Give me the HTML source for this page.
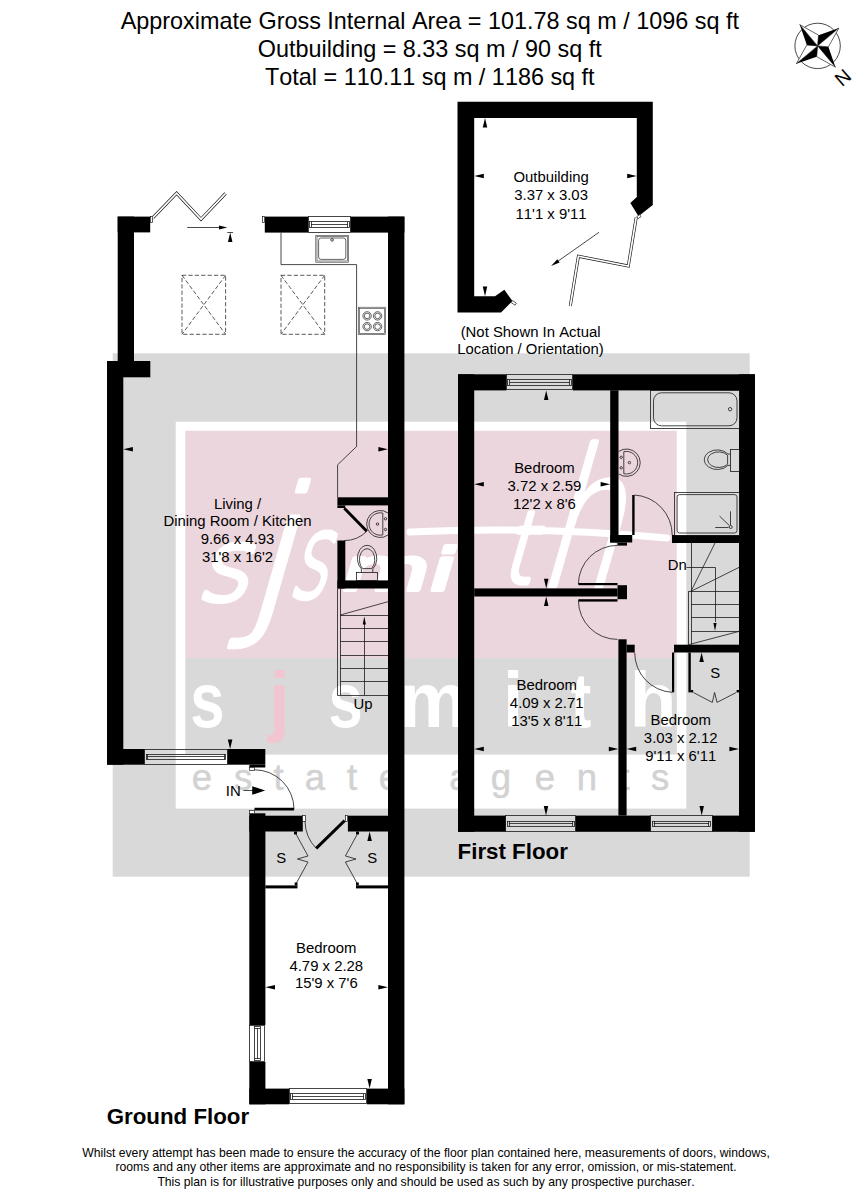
<!DOCTYPE html>
<html lang="en"><head><meta charset="utf-8"><title>Floor plan</title>
<style>
html,body{margin:0;padding:0;background:#fff}
svg{display:block}
text{font-family:"Liberation Sans",sans-serif;fill:#000;font-kerning:none}
.w{fill:#000}
.a{fill:#000}
.cw{fill:#fff;stroke:#000;stroke-width:.6;stroke-linejoin:round}
.l{fill:none;stroke:#1a1a1a;stroke-width:.8}
.l2{fill:none;stroke:#222;stroke-width:.55}
.lf{fill:none;stroke:#1a1a1a;stroke-width:.8}
.j{fill:#fff;stroke:#1a1a1a;stroke-width:.7}
.dash{fill:none;stroke:#111;stroke-width:.7;stroke-dasharray:4.2 2.2}
.dl{fill:none;stroke:#000;stroke-width:2.9}
.d2{fill:none;stroke:#111;stroke-width:3;stroke-linejoin:miter;stroke-linecap:butt}
.d2i{fill:none;stroke:#fff;stroke-width:1.7;stroke-linejoin:miter;stroke-linecap:butt}
.t{font-size:14.9px;text-anchor:middle}
.tl{font-size:14.9px;text-anchor:middle}
.h{font-size:22.3px;font-weight:700}
.big{font-size:23.4px;text-anchor:middle}
.sm{font-size:12.2px;text-anchor:middle}
</style></head><body>
<svg width="861" height="1200" viewBox="0 0 861 1200">
<rect width="861" height="1200" fill="#fff"/>
<rect class="" x="112.70" y="353.30" width="637.00" height="523.40" fill="#d9d9d9"/>
<rect class="" x="175.70" y="421.70" width="510.60" height="386.90" fill="#fff"/>
<rect class="" x="185.30" y="430.80" width="491.50" height="227.30" fill="#ecd6dd"/>
<rect class="" x="185.30" y="658.10" width="491.50" height="96.50" fill="#d9d9d9"/>
<text transform="translate(196 600) skewX(-16) scale(1 1)" style="font:200 100px 'DejaVu Sans',sans-serif;fill:#fff;stroke:#fff;stroke-width:5;stroke-linejoin:round" >s</text>
<text transform="translate(243 611) skewX(-16) scale(1 1)" style="font:200 172px 'DejaVu Sans',sans-serif;fill:#fff;stroke:#fff;stroke-width:5;stroke-linejoin:round" >j</text>
<text transform="translate(288 597) skewX(-16) scale(0.62 1)" style="font:200 116px 'DejaVu Sans',sans-serif;fill:#fff;stroke:#fff;stroke-width:5;stroke-linejoin:round" >s</text>
<text transform="translate(338 590) skewX(-16) scale(1 1)" style="font:400 58px 'DejaVu Sans',sans-serif;fill:#fff;stroke:#fff;stroke-width:4;stroke-linejoin:round" textLength="112" lengthAdjust="spacingAndGlyphs">mi</text>
<text transform="translate(500 583) skewX(-16) scale(0.8 1)" style="font:200 100px 'DejaVu Sans',sans-serif;fill:#fff;stroke:#fff;stroke-width:5;stroke-linejoin:round" >t</text>
<text transform="translate(536 586) skewX(-16) scale(0.66 1)" style="font:200 190px 'DejaVu Sans',sans-serif;fill:#fff;stroke:#fff;stroke-width:5;stroke-linejoin:round" >h</text>
<path d="M410 532 Q540 526 667 538" style="fill:none;stroke:#fff;stroke-width:7;stroke-linecap:round"/>
<text x="0" y="0" text-anchor="middle" transform="translate(207.5 726.6) scale(0.8 1)" style="font:700 77px 'Liberation Sans',sans-serif;fill:#fff">s</text>
<text x="0" y="0" text-anchor="middle" transform="translate(279.5 726.6) scale(1 1)" style="font:700 77px 'Liberation Sans',sans-serif;fill:#f1c6d0">j</text>
<text x="0" y="0" text-anchor="middle" transform="translate(345.6 726.6) scale(0.8 1)" style="font:700 77px 'Liberation Sans',sans-serif;fill:#fff">s</text>
<text x="0" y="0" text-anchor="middle" transform="translate(433.5 726.6) scale(1 1)" style="font:700 77px 'Liberation Sans',sans-serif;fill:#fff">m</text>
<text x="0" y="0" text-anchor="middle" transform="translate(513.2 726.6) scale(0.95 1)" style="font:700 77px 'Liberation Sans',sans-serif;fill:#fff">i</text>
<text x="0" y="0" text-anchor="middle" transform="translate(581 726.6) scale(0.8 1)" style="font:700 77px 'Liberation Sans',sans-serif;fill:#fff">t</text>
<text x="0" y="0" text-anchor="middle" transform="translate(653 726.6) scale(1 1)" style="font:700 77px 'Liberation Sans',sans-serif;fill:#fff">h</text>
<text x="202" y="789.8" text-anchor="middle" style="font:400 36.5px 'Liberation Sans',sans-serif;fill:#d2d2d2;stroke:#d2d2d2;stroke-width:.5">e</text>
<text x="243" y="789.8" text-anchor="middle" style="font:400 36.5px 'Liberation Sans',sans-serif;fill:#d2d2d2;stroke:#d2d2d2;stroke-width:.5">s</text>
<text x="278.5" y="789.8" text-anchor="middle" style="font:400 36.5px 'Liberation Sans',sans-serif;fill:#d2d2d2;stroke:#d2d2d2;stroke-width:.5">t</text>
<text x="314.8" y="789.8" text-anchor="middle" style="font:400 36.5px 'Liberation Sans',sans-serif;fill:#d2d2d2;stroke:#d2d2d2;stroke-width:.5">a</text>
<text x="352" y="789.8" text-anchor="middle" style="font:400 36.5px 'Liberation Sans',sans-serif;fill:#d2d2d2;stroke:#d2d2d2;stroke-width:.5">t</text>
<text x="389" y="789.8" text-anchor="middle" style="font:400 36.5px 'Liberation Sans',sans-serif;fill:#d2d2d2;stroke:#d2d2d2;stroke-width:.5">e</text>
<text x="459.5" y="789.8" text-anchor="middle" style="font:400 36.5px 'Liberation Sans',sans-serif;fill:#d2d2d2;stroke:#d2d2d2;stroke-width:.5">a</text>
<text x="501" y="789.8" text-anchor="middle" style="font:400 36.5px 'Liberation Sans',sans-serif;fill:#d2d2d2;stroke:#d2d2d2;stroke-width:.5">g</text>
<text x="545" y="789.8" text-anchor="middle" style="font:400 36.5px 'Liberation Sans',sans-serif;fill:#d2d2d2;stroke:#d2d2d2;stroke-width:.5">e</text>
<text x="587" y="789.8" text-anchor="middle" style="font:400 36.5px 'Liberation Sans',sans-serif;fill:#d2d2d2;stroke:#d2d2d2;stroke-width:.5">n</text>
<text x="624.5" y="789.8" text-anchor="middle" style="font:400 36.5px 'Liberation Sans',sans-serif;fill:#d2d2d2;stroke:#d2d2d2;stroke-width:.5">t</text>
<text x="660" y="789.8" text-anchor="middle" style="font:400 36.5px 'Liberation Sans',sans-serif;fill:#d2d2d2;stroke:#d2d2d2;stroke-width:.5">s</text>
<rect class="w" x="117.70" y="216.60" width="16.30" height="144.40" />
<rect class="w" x="117.70" y="216.60" width="32.50" height="15.80" />
<rect class="w" x="107.00" y="361.00" width="43.30" height="16.30" />
<rect class="w" x="107.00" y="361.00" width="16.30" height="403.70" />
<rect class="w" x="107.00" y="749.00" width="37.50" height="15.70" />
<rect class="w" x="227.50" y="749.00" width="37.80" height="15.70" />
<rect class="w" x="249.40" y="764.70" width="15.90" height="2.80" />
<rect class="w" x="264.80" y="216.60" width="43.20" height="16.00" />
<rect class="w" x="350.60" y="216.60" width="53.80" height="16.00" />
<rect class="w" x="388.00" y="216.60" width="16.40" height="887.70" />
<rect class="w" x="249.30" y="813.30" width="16.10" height="211.70" />
<rect class="w" x="249.30" y="1061.80" width="16.10" height="42.50" />
<rect class="w" x="249.30" y="815.70" width="53.50" height="15.80" />
<rect class="w" x="347.90" y="815.70" width="40.10" height="15.80" />
<rect class="w" x="249.30" y="1088.60" width="39.80" height="15.70" />
<rect class="w" x="366.90" y="1088.60" width="37.50" height="15.70" />
<rect class="w" x="337.40" y="497.30" width="50.60" height="8.10" />
<rect class="w" x="337.40" y="505.40" width="7.80" height="2.60" />
<rect class="w" x="337.40" y="540.50" width="7.90" height="48.00" />
<rect class="w" x="337.40" y="580.40" width="50.60" height="8.10" />
<rect class="w" x="265.40" y="885.40" width="32.10" height="3.00" />
<rect class="w" x="356.00" y="885.40" width="32.00" height="3.00" />
<rect class="w" x="294.00" y="831.50" width="3.00" height="2.90" />
<rect class="w" x="356.00" y="831.50" width="3.00" height="2.90" />
<rect class="w" x="294.70" y="882.50" width="2.80" height="2.90" />
<rect class="w" x="356.00" y="882.50" width="2.80" height="2.90" />
<rect class="l" x="308.50" y="216.50" width="42.00" height="16.00" />
<rect class="l" x="309.50" y="221.50" width="40.00" height="6.00" />
<polyline class="l" points="311.00,224.50 347.60,224.50" />
<polyline class="l" points="311.50,221.90 311.50,227.30" />
<polyline class="l" points="347.50,221.90 347.50,227.30" />
<rect class="l" x="144.50" y="749.50" width="83.00" height="15.00" />
<rect class="l" x="146.50" y="754.50" width="79.00" height="5.00" />
<polyline class="l" points="147.50,756.50 224.50,756.50" />
<polyline class="l" points="147.50,754.15 147.50,759.55" />
<polyline class="l" points="224.50,754.15 224.50,759.55" />
<rect class="l" x="289.50" y="1088.50" width="77.00" height="15.00" />
<rect class="l" x="290.50" y="1093.50" width="75.00" height="6.00" />
<polyline class="l" points="292.10,1096.50 363.90,1096.50" />
<polyline class="l" points="292.50,1093.75 292.50,1099.15" />
<polyline class="l" points="363.50,1093.75 363.50,1099.15" />
<rect class="l" x="249.50" y="1025.50" width="15.00" height="36.00" />
<rect class="l" x="254.50" y="1026.50" width="6.00" height="34.00" />
<polyline class="l" points="257.50,1028.00 257.50,1058.80" />
<polyline class="l" points="254.65,1028.50 260.05,1028.50" />
<polyline class="l" points="254.65,1058.50 260.05,1058.50" />
<rect class="j" x="150.50" y="216.50" width="2.00" height="6.00" />
<rect class="j" x="262.50" y="216.50" width="2.00" height="6.00" />
<rect class="j" x="249.50" y="767.50" width="5.00" height="3.00" />
<rect class="j" x="249.50" y="810.50" width="5.00" height="3.00" />
<rect class="j" x="302.50" y="815.50" width="3.00" height="6.00" />
<rect class="j" x="345.50" y="815.50" width="2.00" height="6.00" />
<polyline class="d2" points="153.00,217.60 176.60,193.20 201.00,219.20 225.60,193.40" />
<polyline class="d2i" points="153.00,217.60 176.60,193.20 201.00,219.20 225.60,193.40" />
<polyline class="l" points="187.20,227.50 220.00,227.50" />
<polygon class="a" points="227.30,227.50 219.00,225.60 219.00,229.40"/>
<polyline class="l" points="227.30,232.50 233.00,232.50" />
<polygon class="a" points="230.20,232.40 227.95,242.00 232.45,242.00"/>
<rect class="dash" x="182" y="275.3" width="43.599999999999994" height="59"/>
<polyline class="dash" points="182.00,275.30 225.60,334.30" />
<polyline class="dash" points="225.60,275.30 182.00,334.30" />
<rect class="dash" x="281" y="275.3" width="43.69999999999999" height="59"/>
<polyline class="dash" points="281.00,275.30 324.70,334.30" />
<polyline class="dash" points="324.70,275.30 281.00,334.30" />
<polyline class="l" points="281.00,232.60 281.00,264.60 356.60,264.60 356.60,446.50 337.60,464.80 337.60,497.30" />
<rect class="l2" x="315.8" y="235.3" width="32.7" height="26.9"/><rect class="l2" x="317" y="236.5" width="30.3" height="24.5"/>
<rect class="l2" x="318.6" y="238" width="27.2" height="21.4" rx="2.5" style="stroke-width:.7"/>
<circle class="l" cx="332.1" cy="239.9" r="1.3"/>
<rect class="l2" x="358.5" y="307.2" width="27.2" height="27.3"/><rect class="l2" x="359.7" y="308.4" width="24.8" height="24.9"/>
<circle class="l2" cx="367.1" cy="315.9" r="4.2" style="stroke-width:.7"/><circle class="l2" cx="367.1" cy="315.9" r="2.8" style="stroke-width:.7"/>
<circle class="l2" cx="367.1" cy="326.6" r="4.2" style="stroke-width:.7"/><circle class="l2" cx="367.1" cy="326.6" r="2.8" style="stroke-width:.7"/>
<circle class="l2" cx="377.6" cy="315.9" r="4.2" style="stroke-width:.7"/><circle class="l2" cx="377.6" cy="315.9" r="2.8" style="stroke-width:.7"/>
<circle class="l2" cx="377.6" cy="326.6" r="4.2" style="stroke-width:.7"/><circle class="l2" cx="377.6" cy="326.6" r="2.8" style="stroke-width:.7"/>
<polyline class="dl" points="344.30,508.20 366.80,531.30" />
<path class="l" d="M366.8 531.3 A32 32 0 0 1 344.3 540.6" />
<path class="l" d="M388 513 A13.5 13.5 0 1 0 388 535" />
<path class="l" d="M382.8 513.1 A11.2 11.2 0 1 0 382.8 534.9 Z" stroke-linejoin="round"/>
<circle class="l" cx="385.5" cy="518.8" r="1.2"/>
<circle class="l" cx="385.5" cy="529.5" r="1.2"/>
<circle class="l" cx="377.5" cy="524.1" r="1.2"/>
<path class="l" d="M361.4 572.4 L361.4 568.9 A9.7 13 0 1 1 372.8 568.9 L372.8 572.4" />
<path class="l" d="M362.6 568.6 A7.7 11 0 1 1 371.6 568.6 Z" />
<rect class="lf" x="356.50" y="572.50" width="21.00" height="8.00" />
<polyline class="l" points="337.50,588.50 337.50,695.50 388.00,695.50" />
<polyline class="l" points="340.50,588.50 340.50,695.00" />
<polyline class="l" points="340.30,615.50 388.00,615.50" />
<polyline class="l" points="340.30,628.50 388.00,628.50" />
<polyline class="l" points="340.30,641.50 388.00,641.50" />
<polyline class="l" points="340.30,655.50 388.00,655.50" />
<polyline class="l" points="340.30,668.50 388.00,668.50" />
<polyline class="l" points="340.30,681.50 388.00,681.50" />
<polyline class="l" points="340.30,615.00 388.00,601.70" />
<polyline class="l" points="364.50,695.00 364.50,620.00" />
<polygon class="a" points="364.30,616.50 362.70,624.50 365.90,624.50"/>
<polyline class="dl" points="254.50,809.10 294.00,809.10" />
<path class="l" d="M294 809.1 A39.5 39.5 0 0 0 254.5 769.8" />
<polyline class="l" points="243.40,790.50 253.00,790.50" />
<polygon class="a" points="265.20,790.50 252.20,786.20 252.20,794.80"/>
<polyline class="dl" points="344.60,820.60 316.20,848.40" />
<path class="l" d="M305 821 A40 40 0 0 0 316.2 848.4" />
<polyline class="l" points="296.00,834.00 308.00,856.00 297.40,859.00 308.00,862.00 296.00,883.80" />
<polyline class="l" points="357.40,834.00 345.40,856.00 356.00,859.00 345.40,862.00 357.40,883.80" />
<polygon class="a" points="123.30,449.30 132.90,447.05 132.90,451.55"/>
<polygon class="a" points="388.00,449.30 378.40,447.05 378.40,451.55"/>
<polygon class="a" points="230.10,749.00 227.85,739.40 232.35,739.40"/>
<polygon class="a" points="265.40,987.30 275.00,985.05 275.00,989.55"/>
<polygon class="a" points="388.00,987.30 378.40,985.05 378.40,989.55"/>
<polygon class="a" points="369.60,831.50 367.35,841.10 371.85,841.10"/>
<polygon class="a" points="369.60,1088.60 367.35,1079.00 371.85,1079.00"/>
<polygon class="w" points="457.50,101.80 652.80,101.80 652.80,205.00 638.50,216.20 630.30,203.00 636.80,197.00 636.80,118.00 474.20,118.00 474.20,296.20 495.00,296.20 504.40,289.80 512.40,301.00 501.00,312.60 457.50,312.60"/>
<polyline class="d2" points="636.20,217.50 628.30,266.00 578.40,256.20 570.30,306.00" />
<polyline class="d2i" points="636.20,217.50 628.30,266.00 578.40,256.20 570.30,306.00" />
<polygon class="j" points="512.60,300.60 516.40,303.20 515.00,305.20 511.20,302.60"/>
<polygon class="j" points="636.80,216.60 639.60,214.60 641.00,216.60 638.20,218.60"/>
<polyline class="l" points="599.00,232.30 556.50,262.20" />
<polygon class="a" points="551.10,266.00 557.31,259.19 559.61,262.46"/>
<polygon class="a" points="485.00,118.00 482.75,127.60 487.25,127.60"/>
<polygon class="a" points="485.00,296.20 482.75,286.60 487.25,286.60"/>
<polygon class="a" points="474.20,176.10 483.80,173.85 483.80,178.35"/>
<polygon class="a" points="636.80,176.10 627.20,173.85 627.20,178.35"/>
<rect class="w" x="458.00" y="374.30" width="16.20" height="457.50" />
<rect class="w" x="458.00" y="374.30" width="48.30" height="16.10" />
<rect class="w" x="572.80" y="374.30" width="182.20" height="16.10" />
<rect class="w" x="739.00" y="374.30" width="16.00" height="457.50" />
<rect class="w" x="458.00" y="815.60" width="47.90" height="16.20" />
<rect class="w" x="575.60" y="815.60" width="75.10" height="16.20" />
<rect class="w" x="712.00" y="815.60" width="43.00" height="16.20" />
<rect class="w" x="474.20" y="588.40" width="143.30" height="8.10" />
<rect class="w" x="617.50" y="585.20" width="9.50" height="14.00" />
<rect class="w" x="610.20" y="390.30" width="8.30" height="152.20" />
<rect class="w" x="610.20" y="535.00" width="22.00" height="7.50" />
<rect class="w" x="617.50" y="542.50" width="9.50" height="3.10" />
<rect class="w" x="672.00" y="535.00" width="67.00" height="8.00" />
<rect class="w" x="618.40" y="639.30" width="8.20" height="176.30" />
<rect class="w" x="626.60" y="644.70" width="8.10" height="7.80" />
<rect class="w" x="674.00" y="644.70" width="65.00" height="7.80" />
<rect class="w" x="688.40" y="652.50" width="2.40" height="39.90" />
<rect class="w" x="690.80" y="690.00" width="2.40" height="2.40" />
<rect class="w" x="736.60" y="690.00" width="2.40" height="2.40" />
<rect class="l" x="506.50" y="374.50" width="66.00" height="15.00" />
<rect class="l" x="507.50" y="379.50" width="64.00" height="6.00" />
<polyline class="l" points="509.30,382.50 569.80,382.50" />
<polyline class="l" points="509.50,379.65 509.50,385.05" />
<polyline class="l" points="569.50,379.65 569.50,385.05" />
<rect class="l" x="505.50" y="815.50" width="70.00" height="16.00" />
<rect class="l" x="507.50" y="821.50" width="67.00" height="5.00" />
<polyline class="l" points="508.90,823.50 572.60,823.50" />
<polyline class="l" points="509.50,821.00 509.50,826.40" />
<polyline class="l" points="572.50,821.00 572.50,826.40" />
<rect class="l" x="650.50" y="815.50" width="62.00" height="16.00" />
<rect class="l" x="652.50" y="821.50" width="58.00" height="5.00" />
<polyline class="l" points="653.70,823.50 709.00,823.50" />
<polyline class="l" points="654.50,821.00 654.50,826.40" />
<polyline class="l" points="708.50,821.00 708.50,826.40" />
<rect class="l" x="650.50" y="390.50" width="89.00" height="38.00" />
<rect class="l" x="653.5" y="392.8" width="83.5" height="33" rx="8"/>
<circle class="l" cx="730.1" cy="409.2" r="1.7"/>
<path class="l" d="M618.5 451.6 A13.7 13.7 0 1 1 618.5 473.8" />
<path class="l" d="M623.8 451.7 A11.3 11.3 0 1 1 623.8 473.7 Z" stroke-linejoin="round"/>
<circle class="l" cx="621.2" cy="457.3" r="1.2"/>
<circle class="l" cx="621.2" cy="467.8" r="1.2"/>
<circle class="l" cx="629.4" cy="462.6" r="1.2"/>
<path class="l" d="M730.7 454 L727.9 454 A13 9.8 0 1 0 727.9 465.4 L730.7 465.4" />
<path class="l" d="M727.6 455.2 A11 7.8 0 1 0 727.6 464.2 Z" />
<rect class="lf" x="730.50" y="449.50" width="9.00" height="22.00" />
<rect class="l" x="674.50" y="492.50" width="65.00" height="43.00" />
<rect class="l" x="677.1" y="494.6" width="59.9" height="38.4" rx="2.5"/>
<circle class="l" cx="730.7" cy="527" r="1.5"/>
<polyline class="l" points="715.20,527.50 728.60,527.50" />
<polyline class="l" points="730.50,511.30 730.50,525.00" />
<polyline class="l" points="719.50,516.00 729.40,525.60" />
<rect class="w" x="632.20" y="495.00" width="2.40" height="40.00" />
<path class="l" d="M634.4 495 A40 40 0 0 1 672.2 535" />
<rect class="w" x="578.40" y="583.00" width="39.10" height="2.20" />
<rect class="w" x="578.40" y="599.20" width="39.10" height="2.40" />
<path class="l" d="M578.4 584 A39 39 0 0 1 617.5 545.4" />
<path class="l" d="M578.4 600.4 A39 39 0 0 0 617.5 639.4" />
<rect class="w" x="672.00" y="652.50" width="2.20" height="39.80" />
<path class="l" d="M634.7 652.6 A39.6 39.6 0 0 0 672.2 692.3" />
<polyline class="l" points="693.40,692.50 712.30,702.40 714.60,692.50 717.00,702.40 736.30,692.50" />
<polyline class="l" points="688.50,591.30 688.50,644.70" />
<polyline class="l" points="691.50,543.00 691.50,644.70" />
<polyline class="l" points="688.50,591.50 739.00,591.50" />
<polyline class="l" points="691.00,604.50 739.00,604.50" />
<polyline class="l" points="691.00,617.50 739.00,617.50" />
<polyline class="l" points="691.00,631.50 739.00,631.50" />
<polyline class="l" points="691.00,591.30 715.00,543.00" />
<polyline class="l" points="691.00,591.30 739.00,567.40" />
<polyline class="l" points="688.50,644.70 739.00,631.40" />
<polyline class="l" points="686.50,567.50 715.50,567.50 715.50,622.00" />
<polygon class="a" points="715.00,631.00 713.40,623.00 716.60,623.00"/>
<polygon class="a" points="546.20,390.40 543.95,400.00 548.45,400.00"/>
<polygon class="a" points="546.20,588.40 543.95,578.80 548.45,578.80"/>
<polygon class="a" points="474.20,484.20 483.80,481.95 483.80,486.45"/>
<polygon class="a" points="610.20,484.20 600.60,481.95 600.60,486.45"/>
<polygon class="a" points="546.20,596.50 543.95,606.10 548.45,606.10"/>
<polygon class="a" points="546.00,815.60 543.75,806.00 548.25,806.00"/>
<polygon class="a" points="474.20,749.00 483.80,746.75 483.80,751.25"/>
<polygon class="a" points="618.40,749.00 608.80,746.75 608.80,751.25"/>
<polygon class="a" points="701.60,652.50 699.35,662.10 703.85,662.10"/>
<polygon class="a" points="701.70,815.60 699.45,806.00 703.95,806.00"/>
<polygon class="a" points="626.60,749.00 636.20,746.75 636.20,751.25"/>
<polygon class="a" points="739.00,749.00 729.40,746.75 729.40,751.25"/>
<circle class="l" cx="817.6" cy="45.9" r="22.7"/>
<polygon class="a" points="817.60,45.90 828.36,46.84 835.47,67.20"/>
<polygon class="cw" points="817.60,45.90 816.66,56.66 835.47,67.20"/>
<polygon class="a" points="817.60,45.90 816.66,56.66 796.30,63.77"/>
<polygon class="cw" points="817.60,45.90 806.84,44.96 796.30,63.77"/>
<polygon class="a" points="817.60,45.90 806.84,44.96 799.73,24.60"/>
<polygon class="cw" points="817.60,45.90 818.54,35.14 799.73,24.60"/>
<polygon class="a" points="817.60,45.90 818.54,35.14 838.90,28.03"/>
<polygon class="cw" points="817.60,45.90 828.36,46.84 838.90,28.03"/>
<text x="842.8" y="84.2" text-anchor="middle" transform="rotate(-41 842.8 77.4)" style="font:19.5px 'Liberation Sans',sans-serif">N</text>
<text class="t" x="237.50" y="508.60" >Living /</text>
<text class="t" x="237.50" y="526.30" >Dining Room / Kitchen</text>
<text class="t" x="237.50" y="544.20" >9.66 x 4.93</text>
<text class="t" x="237.50" y="561.90" >31'8 x 16'2</text>
<text class="t" x="551.10" y="182.40" >Outbuilding</text>
<text class="t" x="551.10" y="200.40" >3.37 x 3.03</text>
<text class="t" x="551.10" y="218.50" >11'1 x 9'11</text>
<text class="t" x="544.40" y="473.20" >Bedroom</text>
<text class="t" x="544.40" y="490.90" >3.72 x 2.59</text>
<text class="t" x="544.40" y="508.50" >12'2 x 8'6</text>
<text class="t" x="546.70" y="690.00" >Bedroom</text>
<text class="t" x="546.70" y="707.80" >4.09 x 2.71</text>
<text class="t" x="546.70" y="725.60" >13'5 x 8'11</text>
<text class="t" x="680.70" y="725.00" >Bedroom</text>
<text class="t" x="680.70" y="742.80" >3.03 x 2.12</text>
<text class="t" x="680.70" y="760.80" >9'11 x 6'11</text>
<text class="t" x="326.30" y="953.20" >Bedroom</text>
<text class="t" x="326.30" y="970.80" >4.79 x 2.28</text>
<text class="t" x="326.30" y="988.40" >15'9 x 7'6</text>
<text class="t" x="281.20" y="863.30" >S</text>
<text class="t" x="372.30" y="863.30" >S</text>
<text class="t" x="715.30" y="678.30" >S</text>
<text class="t" x="362.90" y="709.30" >Up</text>
<text class="t" x="677.30" y="569.60" >Dn</text>
<text class="t" x="233.30" y="795.80" >IN</text>
<text class="tl" x="530.60" y="336.70" >(Not Shown In Actual</text>
<text class="tl" x="530.40" y="354.30" >Location / Orientation)</text>
<text class="h" x="106.70" y="1124.00" >Ground Floor</text>
<text class="h" x="457.60" y="858.80" >First Floor</text>
<text class="big" x="429.80" y="29.30" >Approximate Gross Internal Area = 101.78 sq m / 1096 sq ft</text>
<text class="big" x="429.80" y="57.40" >Outbuilding = 8.33 sq m / 90 sq ft</text>
<text class="big" x="429.80" y="85.40" >Total = 110.11 sq m / 1186 sq ft</text>
<text class="sm" x="426.00" y="1156.70" >Whilst every attempt has been made to ensure the accuracy of the floor plan contained here, measurements of doors, windows,</text>
<text class="sm" x="426.00" y="1171.10" >rooms and any other items are approximate and no responsibility is taken for any error, omission, or mis-statement.</text>
<text class="sm" x="426.00" y="1185.60" >This plan is for illustrative purposes only and should be used as such by any prospective purchaser.</text>
</svg>
</body></html>
